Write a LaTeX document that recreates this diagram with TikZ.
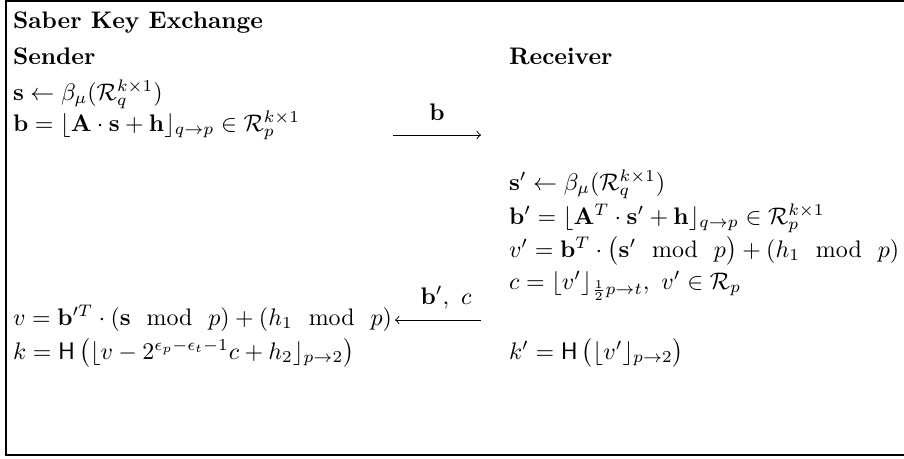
\documentclass[tikz,border=0pt]{standalone}
\usepackage{amsmath,amssymb}
\newcommand{\mmod}{\mkern12mu\mathrm{mod}\mkern12mu}
\begin{document}
\begin{tikzpicture}[x=0.418pt,y=-0.418pt,
  txt/.style={anchor=base west, inner sep=0pt, outer sep=0pt},
  lbl/.style={anchor=base, inner sep=0pt, outer sep=0pt},
  msg/.style={line width=0.4pt, -to},
  frame/.style={line width=0.8pt}]
\useasboundingbox (0,0) rectangle (904,458);
% frame
\coordinate (tl) at (6,1);
\coordinate (bl) at (6,455);
\coordinate (tr) at (910,1);
\coordinate (br) at (910,455);
\draw[frame] (tr) -- (tl) -- (bl) -- (br);
% title and headers
\node[txt] (title) at (13,28) {\textbf{Saber Key Exchange}};
\node[txt] (sender) at (13,64) {\textbf{Sender}};
\node[txt] (receiver) at (509,64) {\textbf{Receiver}};
% sender lines
\node[txt] (s) at (13,100) {$\mathbf{s}\leftarrow\beta_\mu(\mathcal{R}_q^{k\times 1})$};
\node[txt] (b) at (13,131) {$\mathbf{b}=\lfloor\mathbf{A}\cdot\mathbf{s}+\mathbf{h}\rfloor_{q\to p}\in\mathcal{R}_p^{k\times 1}$};
% first message
\coordinate (m1s) at (393,135);
\coordinate (m1e) at (481,135);
\draw[msg] (m1s) -- (m1e);
\node[lbl] (m1l) at (437,120) {$\mathbf{b}$};
% receiver lines
\node[txt] (sp) at (509,190) {$\mathbf{s}'\leftarrow\beta_\mu(\mathcal{R}_q^{k\times 1})$};
\node[txt] (bp) at (509,224) {$\mathbf{b}'=\lfloor\mathbf{A}^T\cdot\mathbf{s}'+\mathbf{h}\rfloor_{q\to p}\in\mathcal{R}_p^{k\times 1}$};
\node[txt] (vp) at (509,257) {$v'=\mathbf{b}^T\cdot\bigl(\mathbf{s}'\mmod p\bigr)+(h_1\mmod p)$};
\node[txt] (c) at (509,289) {$c=\lfloor v'\rfloor_{\frac{1}{2}p\to t},\ v'\in\mathcal{R}_p$};
% second message
\coordinate (m2s) at (481,320);
\coordinate (m2e) at (395,320);
\draw[msg] (m2s) -- (m2e);
\node[lbl] (m2l) at (446,304) {$\mathbf{b}',\ c$};
% sender final lines
\node[txt] (v) at (13,325) {$v=\mathbf{b}'^T\cdot(\mathbf{s}\mmod p)+(h_1\mmod p)$};
\node[txt] (k) at (13,359) {$k=\mathsf{H}\,\bigl(\lfloor v-2^{\epsilon_p-\epsilon_t-1}c+h_2\rfloor_{p\to 2}\bigr)$};
\node[txt] (kp) at (509,359) {$k'=\mathsf{H}\,\bigl(\lfloor v'\rfloor_{p\to 2}\bigr)$};
\end{tikzpicture}
\end{document}
